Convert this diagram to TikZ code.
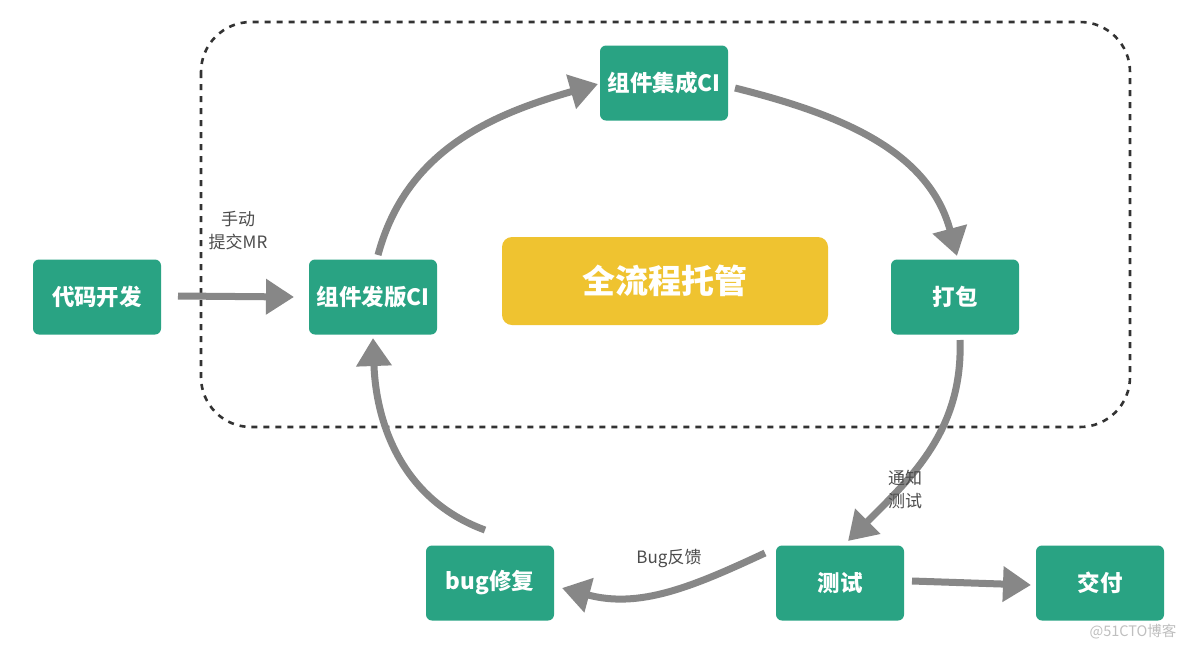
\documentclass[tikz,border=0pt]{standalone}
\usepackage{fontspec}
\setmainfont{Noto Sans CJK SC}
\usetikzlibrary{arrows.meta}
\definecolor{gr}{HTML}{29A383}
\definecolor{yl}{HTML}{EFC330}
\definecolor{ar}{HTML}{878787}
\begin{document}
\begin{tikzpicture}[x=1pt,y=1pt,
  box/.style={fill=gr,rounded corners=6pt,minimum width=128pt,minimum height=75pt,text=white,font=\fontsize{22.5}{26}\selectfont\bfseries,inner sep=0pt},
  conn/.style={draw=ar,line width=7pt,-{Triangle[length=28pt,width=34pt]}},
  lab/.style={text=black!70,font=\fontsize{17}{23}\selectfont,align=center}]
\useasboundingbox (0,0) rectangle (1184,-649);
\fill[white] (0,0) rectangle (1184,-649);
\draw[black!80,line width=2.6pt,dash pattern=on 6pt off 6pt,rounded corners=50pt] (201,-22) rectangle (1130,-427);
\node[box] (dev) at (97,-297) {代码开发};
\node[box] (rel) at (373,-297) {组件发版CI};
\node[box] (int) at (664,-83) {组件集成CI};
\node[box] (pkg) at (955,-297) {打包};
\node[box] (tst) at (840,-583) {测试};
\node[box] (dlv) at (1100,-583) {交付};
\node[box] (bug) at (490,-583) {bug修复};
\node[fill=yl,rounded corners=10pt,minimum width=326pt,minimum height=88pt,text=white,font=\fontsize{33}{38}\selectfont\bfseries] (all) at (665,-281) {全流程托管};
\coordinate (a1s) at (178,-296); \coordinate (a1e) at (294,-297);
\draw[conn] (a1s) -- (a1e);
\coordinate (b1) at (378,-255); \coordinate (b2) at (598,-84);
\draw[conn] (b1) to[out=75,in=196] (b2);
\coordinate (c1) at (735,-88); \coordinate (c2) at (957,-256);
\draw[conn] (c1) to[out=-14,in=105] (c2);
\coordinate (d1) at (960,-340); \coordinate (d2) at (848,-541);
\draw[conn] (d1) to[out=-88,in=45] (d2);
\coordinate (e1) at (765,-553); \coordinate (e2) at (562,-588);
\draw[conn] (e1) to[out=205,in=-15] (e2);
\coordinate (f1) at (485,-530); \coordinate (f2) at (373,-338);
\draw[conn] (f1) to[out=160,in=-88] (f2);
\coordinate (g1) at (912,-581); \coordinate (g2) at (1031,-585);
\draw[conn] (g1) -- (g2);
\node[lab] (l1) at (238,-231) {手动\\提交MR};
\node[lab] (l2) at (905,-490) {通知\\测试};
\node[lab] (l3) at (669,-558) {Bug反馈};
\node[text=black!25,font=\fontsize{14.5}{16}\selectfont] (wm) at (1133,-632) {@51CTO博客};
\end{tikzpicture}
\end{document}
